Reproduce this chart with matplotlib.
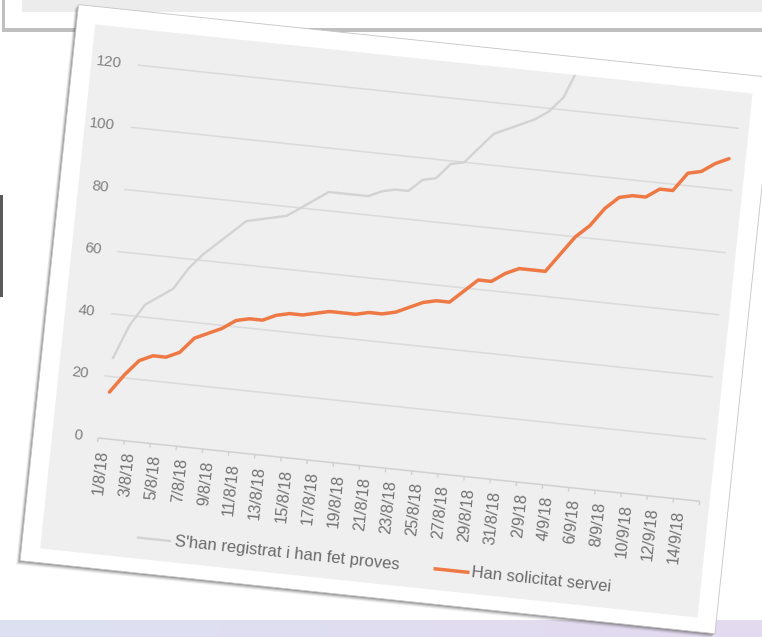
import numpy as np
import matplotlib.pyplot as plt
from matplotlib import transforms
from matplotlib.patches import Polygon, Rectangle
from matplotlib.colors import LinearSegmentedColormap

plt.rcParams['font.family'] = ['Liberation Sans', 'DejaVu Sans']

# dies (1/8/18 - 15/9/18)
dies = ['1/8/18', '2/8/18', '3/8/18', '4/8/18', '5/8/18', '6/8/18', '7/8/18', '8/8/18',
        '9/8/18', '10/8/18', '11/8/18', '12/8/18', '13/8/18', '14/8/18', '15/8/18', '16/8/18',
        '17/8/18', '18/8/18', '19/8/18', '20/8/18', '21/8/18', '22/8/18', '23/8/18', '24/8/18',
        '25/8/18', '26/8/18', '27/8/18', '28/8/18', '29/8/18', '30/8/18', '31/8/18', '1/9/18',
        '2/9/18', '3/9/18', '4/9/18', '5/9/18', '6/9/18', '7/9/18', '8/9/18', '9/9/18',
        '10/9/18', '11/9/18', '12/9/18', '13/9/18', '14/9/18', '15/9/18']

# acumulats
registrats = [26, 37, 44, 47, 50, 57, 62, 66, 70, 74, 75, 76, 77, 80, 83, 86, 86,
              86, 86, 88, 89, 89, 93, 94, 99, 100, 105, 110, 112, 114, 116, 119, 124, 135]
solicituds = [15, 21, 26, 28, 28, 30, 35, 37, 39, 42, 43, 43, 45, 46, 46, 47, 48,
              48, 48, 49, 49, 50, 52, 54, 55, 55, 59, 63, 63, 66, 68, 68, 68, 74,
              80, 84, 90, 94, 95, 95, 98, 98, 104, 105, 108, 110]
yticks = [0, 20, 40, 60, 80, 100, 120]

lbl_registrats = "S'han registrat i han fet proves"
lbl_solicituds = "Han solicitat servei"

GRAY = '#d3d3d3'
ORANGE = '#ee7944'

fig = plt.figure(figsize=(7.62, 6.37), dpi=100)
fig.patch.set_facecolor('white')

# fons de la pagina, en pixels
bg = fig.add_axes([0, 0, 1, 1])
band = LinearSegmentedColormap.from_list('band', ['#dde1f0', '#e4daf0'])
bg.imshow(np.linspace(0, 1, 256).reshape(1, -1), cmap=band,
          extent=(0, 762, 637, 620), aspect='auto')
# targeta de dalt
bg.add_patch(Rectangle((2, -5), 770, 37, fc='#8c8c8c', ec='none', alpha=0.55))
bg.add_patch(Rectangle((5, -5), 770, 33, fc='white', ec='none'))
bg.add_patch(Rectangle((22, -5), 770, 17, fc='#ececec', ec='none'))
bg.add_patch(Rectangle((0, 195), 2.5, 102, fc='#5a5a5a', ec='none'))
bg.set_xlim(0, 762)
bg.set_ylim(637, 0)
bg.axis('off')

# grafic girat
ax = fig.add_axes([98 / 762, 199 / 637, 605 / 762, 375 / 637])
ax.set_xlim(-0.5, len(dies) - 0.5)
ax.set_ylim(0, 120)
ax.axis('off')

rot = transforms.Affine2D().rotate_deg_around(98, 199, -6)
td = ax.transData + rot
ta = ax.transAxes + rot

card = [(-0.107, -0.347), (1.048, -0.347), (1.048, 1.144), (-0.107, 1.144)]
for off, a in [(4, 0.08), (3, 0.14), (2, 0.22), (1, 0.3)]:
    ax.add_patch(Polygon(card, closed=True, fc='#4a4a4a', ec='none', alpha=a, clip_on=False,
                         transform=ta + transforms.Affine2D().translate(-off, -off)))
ax.add_patch(Polygon(card, closed=True, fc='white', ec='#c4c4c4', lw=0.6,
                     transform=ta, clip_on=False))
plot_bg = Polygon([(-0.076, -0.309), (1.0165, -0.309), (1.0165, 1.096), (-0.076, 1.096)],
                  closed=True, fc='#efefef', ec='none', transform=ta, clip_on=False)
ax.add_patch(plot_bg)

# graella i eix
x0, x1 = -0.5, len(dies) - 0.5
ax.hlines(yticks[1:], x0, x1, colors='#dadada', lw=1.1, transform=td, clip_on=False)
ax.hlines(0, x0, x1, colors='#d0d0d0', lw=1.1, transform=td, clip_on=False)
ax.vlines(np.arange(x0, x1 + 0.1, 2), -1.3, 0, colors='#d0d0d0', lw=1.0,
          transform=td, clip_on=False)

# series
l_reg, = ax.plot(np.arange(len(registrats)), registrats, color=GRAY, lw=1.7,
                 transform=td, solid_joinstyle='round', zorder=3)
l_reg.set_clip_path(plot_bg)
l_reg.set_clip_box(None)
ax.plot(np.arange(len(solicituds)), solicituds, color=ORANGE, lw=2.5, transform=td,
        clip_on=False, solid_joinstyle='round', solid_capstyle='round', zorder=4)

# etiquetes
xlab_tr = ax.transData + transforms.Affine2D().translate(0, -11) + rot
for i in range(0, len(dies), 2):
    ax.text(i, 0, dies[i], transform=xlab_tr, rotation=84, rotation_mode='anchor',
            ha='right', va='center', fontsize=11.5, color='#727272', clip_on=False)

ylab_tr = ax.transData + transforms.Affine2D().translate(-16, 0) + rot
for v in yticks:
    ax.text(x0, v, str(v), transform=ylab_tr, rotation=-6, rotation_mode='anchor',
            ha='right', va='center', fontsize=11, color='#808080', clip_on=False)

# llegenda
ly = -0.253
ax.plot([0.083, 0.136], [ly, ly], color=GRAY, lw=1.7, transform=ta, clip_on=False)
ax.text(0.144, ly, lbl_registrats, transform=ta, rotation=-6, rotation_mode='anchor',
        ha='left', va='center', fontsize=12, color='#6a6a6a', clip_on=False)
ax.plot([0.577, 0.631], [ly, ly], color=ORANGE, lw=2.5, transform=ta, clip_on=False)
ax.text(0.637, ly, lbl_solicituds, transform=ta, rotation=-6, rotation_mode='anchor',
        ha='left', va='center', fontsize=12, color='#6a6a6a', clip_on=False)

fig.savefig('out.png', dpi=100)
